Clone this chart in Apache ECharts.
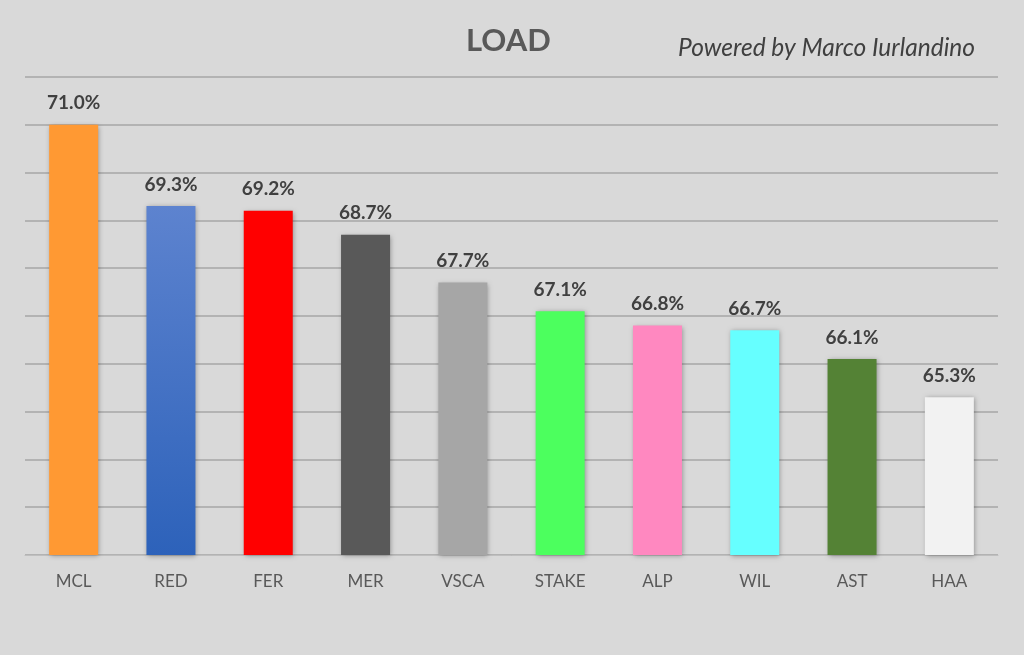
<!DOCTYPE html>
<html>
<head>
<meta charset="utf-8">
<script src="https://cdn.jsdelivr.net/npm/echarts@6/dist/echarts.min.js"></script>
<style>
  html, body { margin: 0; padding: 0; background: #d9d9d9; }
  #chart { width: 1024px; height: 655px; }
</style>
</head>
<body>
<div id="chart"></div>
<script>
let teams = ['MCL', 'RED', 'FER', 'MER', 'VSCA', 'STAKE', 'ALP', 'WIL', 'AST', 'HAA'];
let loadValues = [71.0, 69.3, 69.2, 68.7, 67.7, 67.1, 66.8, 66.7, 66.1, 65.3];
let teamColors = ['#ff9933', '#3e6dc3', '#ff0000', '#595959', '#a6a6a6', '#4cff5e', '#ff88c0', '#66ffff', '#548235', '#f2f2f2'];

let myChart = echarts.init(document.getElementById('chart'));

let barData = loadValues.map(function (v, i) {
    let color = teamColors[i];
    if (teams[i] === 'RED') {
        // red bull bar has a light-to-dark fade
        color = new echarts.graphic.LinearGradient(0, 0, 0, 1, [
            {offset: 0, color: '#5d83cf'},
            {offset: 1, color: '#2d62ba'}
        ]);
    }
    return {value: v, itemStyle: {color: color}};
});

let option = {
    backgroundColor: '#d9d9d9',
    textStyle: {fontFamily: 'Lato'},
    title: [
        {
            text: 'LOAD',
            left: 461,
            top: 20,
            textStyle: {color: '#595959', fontSize: 31, fontWeight: 'bold', fontFamily: 'Lato'}
        },
        {
            text: 'Powered by Marco Iurlandino',
            left: 673,
            top: 31,
            textStyle: {color: '#404040', fontSize: 24.5, fontStyle: 'italic', fontWeight: 'normal', fontFamily: 'Lato'}
        }
    ],
    grid: {left: 25, right: 26, top: 77, bottom: 100},
    xAxis: {
        type: 'category',
        data: teams,
        axisTick: {show: false},
        axisLine: {lineStyle: {color: '#bfbfbf', width: 1}},
        axisLabel: {color: '#595959', fontSize: 17, margin: 18}
    },
    yAxis: {
        type: 'value',
        min: 62,
        max: 72,
        interval: 1,
        axisLabel: {show: false},
        axisLine: {show: false},
        axisTick: {show: false},
        splitLine: {lineStyle: {color: '#a6a6a6', width: 1.5}}
    },
    series: [
        {
            name: 'LOAD',
            type: 'bar',
            barWidth: 49,
            data: barData,
            itemStyle: {
                shadowColor: 'rgba(0,0,0,0.35)',
                shadowBlur: 5,
                shadowOffsetX: 1,
                shadowOffsetY: 1
            },
            label: {
                show: true,
                position: 'top',
                distance: 12,
                color: '#404040',
                fontSize: 19,
                fontWeight: 'bold',
                formatter: function (p) { return p.value.toFixed(1) + '%'; }
            }
        }
    ]
};
myChart.setOption(option);
</script>
</body>
</html>
